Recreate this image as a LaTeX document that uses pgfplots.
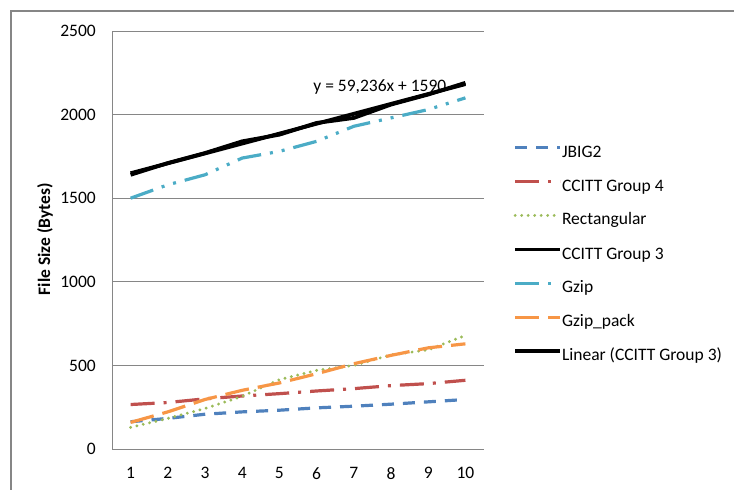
\documentclass[border=0pt]{standalone}
\usepackage{fontspec}
\setmainfont{Carlito}
\usepackage{pgfplots}
\pgfplotsset{compat=1.18}
\definecolor{cblue}{RGB}{79,129,189}
\definecolor{cred}{RGB}{192,80,77}
\definecolor{cgreen}{RGB}{155,187,89}
\definecolor{caqua}{RGB}{75,172,198}
\definecolor{corange}{RGB}{247,150,70}
\definecolor{cgrid}{RGB}{134,134,134}
\begin{document}
\begin{tikzpicture}[x=1bp,y=1bp]
\useasboundingbox (0,0) rectangle (734,490);
\draw[cgrid, line width=1.3bp] (11,0) -- (11,479) -- (734,479);
\begin{axis}[
  at={(112bp,41bp)}, anchor=south west,
  scale only axis, width=372bp, height=418bp,
  xmin=0.5, xmax=10.5, ymin=0, ymax=2500,
  xtick={1,...,10}, ytick={0,500,...,2500},
  major tick length=0pt,
  axis x line*=bottom, axis y line*=left,
  axis line style={cgrid, line width=0.9bp},
  ymajorgrids, grid style={cgrid, line width=0.9bp},
  font=\fontsize{17.5bp}{20bp}\selectfont,
  /pgf/number format/assume math mode=true,
  /pgf/number format/1000 sep={},
  yticklabel style={inner sep=0pt, xshift=-16bp},
  xticklabel style={inner sep=0pt, yshift=-18bp},
  ylabel={\bfseries File Size (Bytes)},
  ylabel style={at={(axis description cs:-0.18,0.502)}, anchor=center, rotate=0},
  legend style={draw=none, fill=none, at={(axis description cs:1.07,0.464)}, anchor=west,
    nodes={inner sep=0pt, text height=11bp, text depth=3bp},
    row sep=19.7bp, font=\fontsize{17.5bp}{20bp}\selectfont},
  legend cell align=left,
  legend image code/.code={\draw[#1] (0bp,5.5bp) -- (45bp,5.5bp);},
  /tikz/every even column/.append style={column sep=6bp},
  every axis plot/.append style={line width=3.2bp},
]
\addplot[cblue, dash pattern=on 12bp off 9bp] coordinates {(1,163) (2,183) (3,208) (4,222) (5,232) (6,246) (7,256) (8,268) (9,282) (10,296)};
\addlegendentry{JBIG2}
\addplot[cred, dash pattern=on 24bp off 9bp on 3bp off 9bp] coordinates {(1,266) (2,278) (3,300) (4,317) (5,331) (6,347) (7,361) (8,379) (9,391) (10,411)};
\addlegendentry{CCITT Group 4}
\addplot[cgreen, line cap=round, dash pattern=on 0bp off 6.5bp] coordinates {(1,129) (2,183) (3,242) (4,315) (5,415) (6,470) (7,500) (8,563) (9,593) (10,679)};
\addlegendentry{Rectangular}
\addplot[black, line width=3.8bp] coordinates {(1,1640) (2,1710) (3,1770) (4,1840) (5,1880) (6,1950) (7,1980) (8,2060) (9,2120) (10,2190)};
\addlegendentry{CCITT Group 3}
\addplot[caqua, dash pattern=on 24bp off 9bp on 3bp off 9bp on 3bp off 9bp] coordinates {(1,1500) (2,1580) (3,1640) (4,1740) (5,1780) (6,1840) (7,1930) (8,1980) (9,2030) (10,2100)};
\addlegendentry{Gzip}
\addplot[corange, dash pattern=on 24bp off 9bp] coordinates {(1,159) (2,222) (3,296) (4,351) (5,395) (6,450) (7,510) (8,560) (9,605) (10,629)};
\addlegendentry{Gzip\_pack}
\addplot[black, line width=3.8bp] coordinates {(1,1649.236) (10,2182.36)};
\addlegendentry{Linear (CCITT Group 3)}
\node[font=\fontsize{17.5bp}{20bp}\selectfont, inner sep=0pt] at (axis cs:7.70,2165) {y = 59,236x + 1590};
\end{axis}
\end{tikzpicture}
\end{document}
